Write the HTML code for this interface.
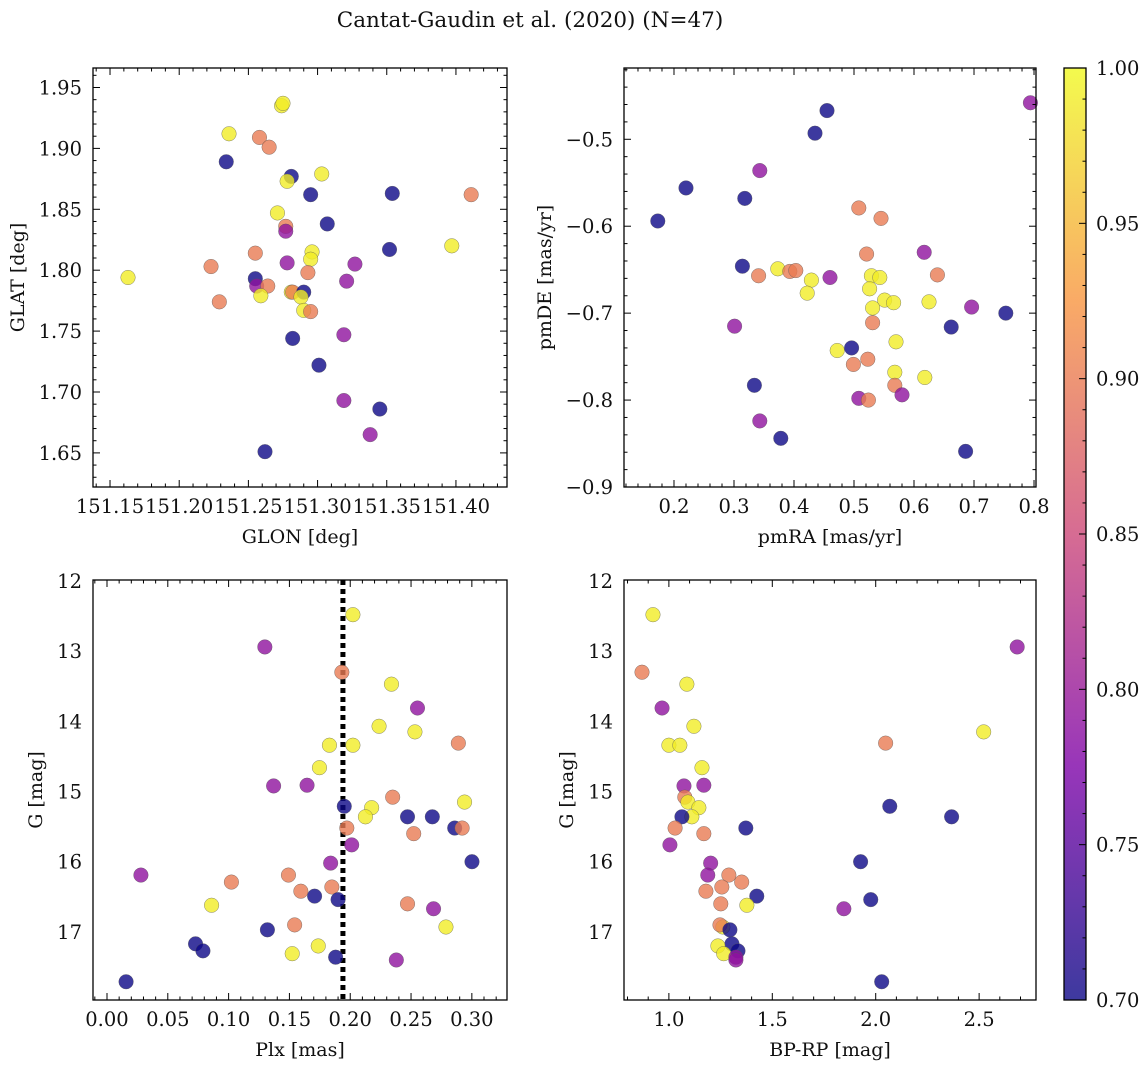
<!DOCTYPE html>
<html><head><meta charset="utf-8">
<style>
html,body{margin:0;padding:0;background:#fff;}
svg text{font-family:"DejaVu Serif","Liberation Serif",serif;fill:#111;}
</style></head>
<body>
<svg id="fig" width="1148" height="1067" viewBox="0 0 1148 1067" xmlns="http://www.w3.org/2000/svg">
<text x="530" y="27" font-size="21.5" text-anchor="middle">Cantat-Gaudin et al. (2020) (N=47)</text>
<defs>
<linearGradient id="cbgrad" x1="0" y1="1" x2="0" y2="0">
<stop offset="0" stop-color="#0d0887"/><stop offset="0.25" stop-color="#7e03a8"/>
<stop offset="0.5" stop-color="#cc4778"/><stop offset="0.75" stop-color="#f89540"/>
<stop offset="1" stop-color="#f0f921"/>
</linearGradient>
</defs>
</svg>
<script>
// ---- data: panel 1 (GLON vs GLAT)
const p1x=[151.163,151.236,151.234,151.258,151.265,151.274,151.275,151.281,151.278,151.303,151.295,151.354,151.271,151.277,151.277,151.307,151.255,151.296,151.295,151.352,151.397,151.411,151.223,151.255,151.278,151.327,151.293,151.321,151.229,151.256,151.264,151.259,151.281,151.282,151.290,151.288,151.290,151.295,151.282,151.319,151.301,151.319,151.345,151.338,151.262];
const p1y=[1.794,1.912,1.889,1.909,1.901,1.935,1.937,1.877,1.873,1.879,1.862,1.863,1.847,1.836,1.832,1.838,1.814,1.815,1.809,1.817,1.820,1.862,1.803,1.793,1.806,1.805,1.798,1.791,1.774,1.787,1.787,1.779,1.782,1.782,1.782,1.778,1.767,1.766,1.744,1.747,1.722,1.693,1.686,1.665,1.651];
const p1p=[0.99,0.99,0.70,0.90,0.90,0.99,0.99,0.70,0.99,0.99,0.70,0.70,0.99,0.90,0.79,0.70,0.90,0.99,0.99,0.70,0.99,0.90,0.90,0.70,0.79,0.79,0.90,0.79,0.90,0.79,0.90,0.99,0.99,0.90,0.70,0.99,0.99,0.90,0.70,0.79,0.70,0.79,0.70,0.79,0.70];
// ---- panel 2 (pmRA vs pmDE)
const p2x=[0.794,0.455,0.435,0.220,0.173,0.318,0.343,0.508,0.545,0.521,0.617,0.639,0.314,0.341,0.373,0.393,0.403,0.429,0.422,0.529,0.543,0.526,0.551,0.566,0.625,0.531,0.460,0.696,0.531,0.301,0.753,0.662,0.570,0.472,0.496,0.499,0.523,0.568,0.618,0.568,0.334,0.580,0.508,0.524,0.343,0.378,0.686];
const p2y=[-0.458,-0.467,-0.493,-0.556,-0.594,-0.568,-0.536,-0.579,-0.591,-0.632,-0.630,-0.656,-0.646,-0.657,-0.649,-0.652,-0.651,-0.662,-0.677,-0.657,-0.659,-0.672,-0.685,-0.688,-0.687,-0.694,-0.659,-0.693,-0.711,-0.715,-0.700,-0.716,-0.733,-0.743,-0.740,-0.759,-0.753,-0.768,-0.774,-0.783,-0.783,-0.794,-0.798,-0.800,-0.824,-0.844,-0.859];
const p2p=[0.79,0.70,0.70,0.70,0.70,0.70,0.79,0.90,0.90,0.90,0.79,0.90,0.70,0.90,0.99,0.90,0.90,0.99,0.99,0.99,0.99,0.99,0.99,0.99,0.99,0.99,0.79,0.79,0.90,0.79,0.70,0.70,0.99,0.99,0.70,0.90,0.90,0.99,0.99,0.90,0.70,0.79,0.79,0.90,0.79,0.70,0.70];
// ---- panel 3 (Plx vs G)
const p3x=[0.2022,0.1298,0.1931,0.2339,0.2553,0.2237,0.2532,0.2889,0.1829,0.2022,0.1747,0.1370,0.1645,0.2349,0.2940,0.1951,0.2176,0.2125,0.2471,0.2675,0.1972,0.2859,0.2920,0.2522,0.2012,0.0279,0.3001,0.1839,0.1492,0.1023,0.1594,0.1849,0.1900,0.1707,0.0860,0.2471,0.2685,0.2787,0.1543,0.1319,0.0728,0.0789,0.1737,0.1523,0.1880,0.2379,0.0157];
const p3y=[12.48,12.94,13.30,13.47,13.81,14.07,14.15,14.31,14.34,14.34,14.66,14.92,14.91,15.08,15.15,15.21,15.23,15.36,15.36,15.36,15.52,15.52,15.52,15.60,15.76,16.19,16.00,16.02,16.19,16.29,16.42,16.36,16.54,16.49,16.62,16.60,16.67,16.93,16.90,16.97,17.17,17.27,17.20,17.31,17.36,17.40,17.71];
const p3p=[0.99,0.79,0.90,0.99,0.79,0.99,0.99,0.90,0.99,0.99,0.99,0.79,0.79,0.90,0.99,0.70,0.99,0.99,0.70,0.70,0.90,0.70,0.90,0.90,0.79,0.79,0.70,0.79,0.90,0.90,0.90,0.90,0.70,0.70,0.99,0.90,0.79,0.99,0.90,0.70,0.70,0.70,0.99,0.99,0.70,0.79,0.70];
const plxLine=0.194;
// ---- panel 4 (BP-RP vs G)
const p4x=[0.923,0.870,1.087,0.967,1.121,2.522,2.048,1.000,1.053,1.160,1.073,1.169,1.077,1.092,2.068,1.145,1.111,1.063,2.367,1.372,1.030,1.169,1.005,1.202,1.927,1.188,1.290,1.352,1.179,1.256,1.976,1.425,1.377,1.251,1.846,1.261,1.247,1.295,1.305,1.237,1.334,1.265,1.324,1.324,2.029,2.684];
const p4y=[12.48,13.30,13.47,13.81,14.07,14.15,14.31,14.34,14.34,14.66,14.92,14.91,15.08,15.15,15.21,15.23,15.36,15.36,15.36,15.52,15.52,15.60,15.76,16.02,16.00,16.19,16.19,16.29,16.42,16.36,16.54,16.49,16.62,16.60,16.67,16.93,16.90,16.97,17.17,17.20,17.27,17.31,17.36,17.40,17.71,12.94];
const p4p=[0.99,0.90,0.99,0.79,0.99,0.99,0.90,0.99,0.99,0.99,0.79,0.79,0.90,0.99,0.70,0.99,0.99,0.70,0.70,0.70,0.90,0.90,0.79,0.79,0.70,0.79,0.90,0.90,0.90,0.90,0.70,0.70,0.99,0.90,0.79,0.99,0.90,0.70,0.70,0.99,0.70,0.99,0.79,0.79,0.70,0.79];
// ---- ticks
const t1x=[151.15,151.20,151.25,151.30,151.35,151.40], t1y=[1.65,1.70,1.75,1.80,1.85,1.90,1.95];
const t2x=[0.2,0.3,0.4,0.5,0.6,0.7,0.8], t2y=[-0.9,-0.8,-0.7,-0.6,-0.5];
const t3x=[0.00,0.05,0.10,0.15,0.20,0.25,0.30], tGy=[12,13,14,15,16,17];
const t4x=[1.0,1.5,2.0,2.5];
const cbTicks=[0.70,0.75,0.80,0.85,0.90,0.95,1.00];

const NS="http://www.w3.org/2000/svg";
const svg=document.getElementById('fig');
function mk(tag,attrs,parent){const e=document.createElementNS(NS,tag);for(const k in attrs)e.setAttribute(k,attrs[k]);(parent||svg).appendChild(e);return e;}
const stops=[[13,8,135],[126,3,168],[204,71,120],[248,149,64],[240,249,33]];
function plasma(p){let t=Math.max(0,Math.min(1,(p-0.7)/0.3))*4;let i=Math.min(3,Math.floor(t)),f=t-i;const a=stops[i],b=stops[i+1];return 'rgb('+[0,1,2].map(k=>Math.round(a[k]+(b[k]-a[k])*f)).join(',')+')';}
function fmt(v,d){return (v<0?'\u2212':'')+Math.abs(v).toFixed(d);}
const TFS=19.5, LFS=19;

function panel(o){
  const g=mk('g',{});
  
  
  const sx=v=>o.L+(v-o.x0)/(o.x1-o.x0)*(o.R-o.L);
  const sy=v=>o.B-(v-o.y0)/(o.y1-o.y0)*(o.B-o.T);
  if(o.vline!==undefined){
    const l=mk('line',{x1:sx(o.vline),x2:sx(o.vline),y1:o.T,y2:o.B,stroke:'#000','stroke-width':5,'stroke-dasharray':'5,4'},g);
    
    
  }
  for(let i=0;i<o.xs.length;i++){
    const c=mk('circle',{cx:sx(o.xs[i]),cy:sy(o.ys[i]),r:7.3,fill:plasma(o.ps[i]),'fill-opacity':0.8,stroke:'#555','stroke-width':0.5,'stroke-opacity':0.7},g);
    
    
  }
  const fr=mk('rect',{x:o.L,y:o.T,width:o.R-o.L,height:o.B-o.T,fill:'none',stroke:'#000','stroke-width':1.3},g);
  
  
  const xs=o.xt[1]-o.xt[0];
  for(let v=o.xt[0]-xs;v<=o.x1+1e-9;v+=xs/5){
    if(v<o.x0-1e-9)continue;const X=sx(v);const isMaj=o.xt.some(t=>Math.abs(t-v)<xs*1e-3);const len=isMaj?7:3.5;
    mk('line',{x1:X,x2:X,y1:o.B,y2:o.B-len,stroke:'#000','stroke-width':1},g);
    mk('line',{x1:X,x2:X,y1:o.T,y2:o.T+len,stroke:'#000','stroke-width':1},g);
  }
  o.xt.forEach(v=>{const t=mk('text',{x:sx(v),y:o.B+26,'font-size':TFS,'text-anchor':'middle'},g);t.textContent=fmt(v,o.xd);
    });
  const ys=o.yt[1]-o.yt[0];
  for(let v=o.yt[0]-ys;v<=o.y1+1e-9;v+=ys/5){
    if(v<o.y0-1e-9)continue;const Y=sy(v);const isMaj=o.yt.some(t=>Math.abs(t-v)<ys*1e-3);const len=isMaj?7:3.5;
    mk('line',{x1:o.L,x2:o.L+len,y1:Y,y2:Y,stroke:'#000','stroke-width':1},g);
    mk('line',{x1:o.R,x2:o.R-len,y1:Y,y2:Y,stroke:'#000','stroke-width':1},g);
  }
  o.yt.forEach(v=>{const t=mk('text',{x:o.L-11,y:sy(v)+7,'font-size':TFS,'text-anchor':'end'},g);t.textContent=fmt(v,o.yd);
    });
  const xl=mk('text',{x:(o.L+o.R)/2,y:o.B+56,'font-size':LFS,'text-anchor':'middle'},g);xl.textContent=o.xlab;
  
  const yx=o.yl, yc=(o.T+o.B)/2;
  const yl=mk('text',{x:yx,y:yc,'font-size':LFS,'text-anchor':'middle',transform:'rotate(-90 '+yx+' '+yc+')'},g);yl.textContent=o.ylab;
  
}
panel({name:'glon-glat-panel',L:93,R:507,T:68,B:487,x0:151.1377,x1:151.4369,y0:1.622,y1:1.966,xs:p1x,ys:p1y,ps:p1p,xt:t1x,yt:t1y,xd:2,yd:2,xlab:'GLON [deg]',ylab:'GLAT [deg]',yl:24});
panel({name:'proper-motion-panel',L:624,R:1036,T:68,B:487,x0:0.1167,x1:0.8033,y0:-0.9,y1:-0.418,xs:p2x,ys:p2y,ps:p2p,xt:t2x,yt:t2y,xd:1,yd:1,xlab:'pmRA [mas/yr]',ylab:'pmDE [mas/yr]',yl:551});
panel({name:'parallax-magnitude-panel',L:93,R:507,T:580,B:1000,x0:-0.0115,x1:0.3289,y0:17.97,y1:11.986,xs:p3x,ys:p3y,ps:p3p,xt:t3x,yt:tGy,xd:2,yd:0,xlab:'Plx [mas]',ylab:'G [mag]',vline:plxLine,yl:42});
panel({name:'color-magnitude-panel',L:624,R:1036,T:580,B:1000,x0:0.783,x1:2.775,y0:17.97,y1:11.986,xs:p4x,ys:p4y,ps:p4p,xt:t4x,yt:tGy,xd:1,yd:0,xlab:'BP-RP [mag]',ylab:'G [mag]',yl:573});
// colorbar
const cb=mk('g',{});


const CT=68,CB=1000,CL=1064,CR=1086;
mk('rect',{x:CL,y:CT,width:CR-CL,height:CB-CT,fill:'url(#cbgrad)','fill-opacity':0.8},cb);
mk('rect',{x:CL,y:CT,width:CR-CL,height:CB-CT,fill:'none',stroke:'#000','stroke-width':1.3},cb);
const cy=v=>CB-(v-0.7)/0.3*(CB-CT);
for(let v=0.70;v<=1.0001;v+=0.01){const Y=cy(v);const maj=Math.abs(Math.round(v*20)-v*20)<1e-6;
  mk('line',{x1:CR,x2:CR-(maj?7:3.5),y1:Y,y2:Y,stroke:'#000','stroke-width':1},cb);}
cbTicks.forEach(v=>{const t=mk('text',{x:CR+10,y:cy(v)+7,'font-size':TFS},cb);t.textContent=v.toFixed(2);
  });
</script>
</body></html>
